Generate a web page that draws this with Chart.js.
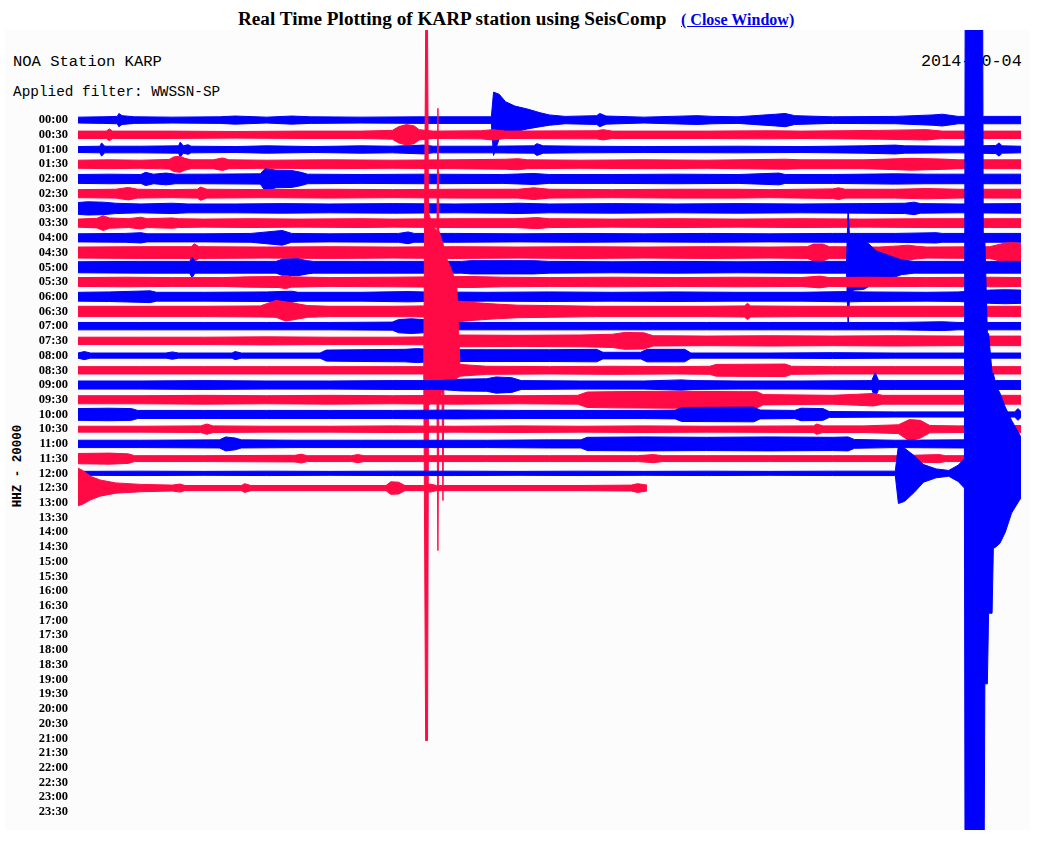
<!DOCTYPE html>
<html>
<head>
<meta charset="utf-8">
<script src="https://cdn.jsdelivr.net/npm/chart.js@4/dist/chart.umd.min.js"></script>
<style>
  body { margin: 0; background: #fff; width: 1043px; height: 851px; position: relative; overflow: hidden; }
  #title { position: absolute; left: 238px; top: 8px; font: bold 19.2px "Liberation Serif", serif; color: #000; white-space: nowrap; }
  #close { position: absolute; left: 681px; top: 11px; font: bold 16px "Liberation Serif", serif; color: #0000ee; text-decoration: underline; white-space: nowrap; }
  #box { position: absolute; left: 5px; top: 30px; width: 1025px; height: 800px; background: #fcfcfc; }
  .mono { position: absolute; font-family: "Liberation Mono", monospace; color: #000; white-space: nowrap; }
  #station { left: 13px; top: 53px; font-size: 15.5px; }
  #filter { left: 13px; top: 84px; font-size: 14.4px; }
  #date { left: 921px; top: 52px; font-size: 16.8px; }
  #chan { left: 18px; top: 466px; font-size: 12.5px; font-weight: bold; transform: translate(-50%, -50%) rotate(-90deg); }
  #plot { position: absolute; left: 5px; top: 30px; }
</style>
</head>
<body>
<div id="title">Real Time Plotting of KARP station using SeisComp</div>
<div id="close">( Close Window)</div>
<div id="box"></div>
<div class="mono" id="station">NOA Station KARP</div>
<div class="mono" id="filter">Applied filter: WWSSN-SP</div>
<div class="mono" id="date">2014-10-04</div>
<div class="mono" id="chan">HHZ - 20000</div>
<canvas id="plot" width="1025" height="800"></canvas>
<script>
// row labels (each row = 30 minutes)
const timeLabels = ["00:00","00:30","01:00","01:30","02:00","02:30","03:00","03:30",
  "04:00","04:30","05:00","05:30","06:00","06:30","07:00","07:30",
  "08:00","08:30","09:00","09:30","10:00","10:30","11:00","11:30",
  "12:00","12:30","13:00","13:30","14:00","14:30","15:00","15:30",
  "16:00","16:30","17:00","17:30","18:00","18:30","19:00","19:30",
  "20:00","20:30","21:00","21:30","22:00","22:30","23:00","23:30"];

// trace envelopes: [minute in row, amplitude up (k counts), amplitude down (k counts, optional)]
const t0000 = [[0,4],[0.8,4.5],[1.25,5],[1.3,9],[1.4,6],[1.8,4.5],[3,4],[4.5,4.5],[5,5.5],[6,4],[6.8,5.5],[7.4,4.5],[9,4],[11,4.5],[13.15,4.5],[13.22,38,48],[13.4,35,25],[13.6,25,20],[13.9,19,16],[14.3,15,12],[14.7,10,9],[15.0,7],[15.5,5],[16.5,6],[16.6,9],[16.8,5.5],[18,4],[19.7,6],[20.2,5],[21,4.5],[22.2,8],[22.5,9],[22.8,6],[24,4.5],[26,5],[27.2,7],[27.5,8],[28,5],[30,5]];
const t0030 = [[0,5],[0.9,5],[1.0,8],[1.1,5],[3,5],[5,4.5],[7,5],[9,5],[10.0,6],[10.2,11],[10.45,14],[10.7,12],[10.85,7],[11.3,5],[12.8,5.5],[13.2,7],[13.6,5],[16.5,5.5],[16.7,7],[17,5],[20,5],[22,5.5],[23,5],[25.5,6],[27,7],[27.5,5],[30,5]];
const t0100 = [[0,4],[0.7,4.5],[0.75,9],[0.85,4.5],[2,4.5],[3.2,5],[3.25,10],[3.35,5],[3.5,6.5],[3.6,4.5],[5,4],[6,5],[7.5,4],[9,5],[10,4.5],[11,6],[11.3,4.5],[13,4.5],[14.5,5],[14.6,8],[14.8,5],[16,4.5],[18,4],[21,4.5],[23,4],[25,5],[26,6],[26.3,5],[28,4.5],[29.2,5.5],[29.3,9],[29.4,5],[30,4.5]];
const t0130 = [[0,5.5],[1,6],[2,5.5],[2.9,6.5],[3.05,10],[3.25,11],[3.4,8],[3.6,6],[4.3,6],[4.6,8.5],[4.8,6],[6,5.5],[8,6],[10,5.5],[12,6],[13.6,6.8],[14,7.5],[14.3,6],[16,5.5],[18,6],[20,5.5],[22.5,6.8],[23,6],[25,6],[26.5,8],[27.5,7],[28,6],[30,6]];
const t0200 = [[0,6],[1,6.5],[2,6],[2.15,9],[2.4,6.5],[2.8,8],[3.1,6.5],[4,6.5],[5.8,7],[5.95,14,16],[6.3,12],[6.8,11.5],[7.1,9],[7.3,6.5],[9,6],[11,6.5],[13.5,6],[14.5,7.5],[15,6],[17,6],[19,6.5],[21,6],[22.3,8],[22.5,6],[24,6],[26,7],[27,6.5],[28.5,6.5],[30,6.5]];
const t0230 = [[0,5.5],[1.2,6],[1.6,8.5],[1.9,6],[3,5.5],[3.8,6],[3.9,9],[4.1,6],[6,5.5],[8,6],[10,5.5],[12,6],[14,6],[14.5,8],[15,6],[17,5.5],[19,6],[21,6],[22,5.5],[24,6.5],[24.2,8],[24.4,6],[26,6],[27,7],[28,6],[30,6]];
const t0300 = [[0,8],[0.3,9],[0.8,8.5],[1.2,7],[2,6],[3,7],[3.5,6],[5,6],[6.5,6.5],[8,6],[10,6.5],[12,6],[13.5,6.5],[14,7],[15,6],[17,6.5],[19,6],[21,6.5],[23,6],[25,6.5],[26.3,7],[26.6,8.5],[26.8,6.5],[28,6],[30,6.5]];
const t0330 = [[0,5.5],[0.6,6.5],[0.8,10],[1.0,7],[1.6,6],[2.0,8],[2.2,6],[3,7],[3.2,6],[4,5.5],[5.5,6],[7,5.5],[9,6],[10,5.5],[12,6],[13.9,6],[14.6,7.5],[15,6],[17,5.5],[19,6],[21,5.5],[23,6],[25,5.5],[27,6],[29,6],[30,6]];
const t0400 = [[0,5.5],[1.5,6],[2,7],[2.2,5.5],[4,5.5],[5.5,6],[6.5,10],[6.8,6],[8,5.5],[10.2,6],[10.5,8],[10.7,6],[12,6],[14,5.5],[16,6],[18,5.5],[20,6],[22,5.5],[24,6],[26,6],[27.3,7],[27.5,6],[30,6]];
const t0430 = [[0,7.5],[2,8],[3.6,8],[3.7,12],[3.85,8],[6,7.5],[8,8],[10,7.5],[12,8],[14,7.5],[16,8],[18,7.5],[20,8],[22,7.5],[23.2,8],[23.4,11.5],[23.7,11.5],[23.9,8],[25.5,7.5],[26.1,9],[26.4,10],[26.7,8.5],[27,7.5],[29,8],[29.5,13],[29.8,13.5],[30,12]];
const t0500 = [[0,7.5],[2,8],[3.55,8],[3.63,14],[3.72,8],[6.3,8],[6.5,11],[7.0,11.5],[7.3,9],[7.5,8],[9,8],[11,8],[12.2,8],[12.5,9],[14.5,9],[15,8],[17,7.5],[19,8],[21,7.5],[23,8],[24.45,8],[24.5,82],[24.55,35],[24.7,41,31],[25.0,38,30],[25.4,22,20],[25.8,16],[26.2,10],[26.6,8],[29,8],[30,8]];
const t0530 = [[0,6],[1.5,6.5],[3,6],[4.6,6],[5.4,7],[6.4,7.5],[6.6,9],[6.8,7],[8,6],[10,6.5],[12.5,7.5],[13.5,6.5],[15,6],[17,6.5],[19,6],[21,6.5],[23,6],[23.6,8],[23.9,6],[25,6.5],[27,6],[29,6.5],[30,6]];
const t0600 = [[0,6],[1,6.5],[2.3,8],[2.5,6],[4,6],[6,6.5],[6.8,7.5],[7,6],[9,6],[10.5,7],[11,6.5],[13,6],[15,6.5],[17,6],[19,6.5],[21,6],[23,6],[24.5,7],[25,6.5],[27,6],[28,6.5],[29,9],[29.5,9.5],[30,9]];
const t0630 = [[0,7],[2,7],[4,7],[5.8,7.5],[6.3,15,8],[6.6,13],[6.9,11],[7.3,8],[8,7],[10,7],[11,7.5],[11.8,10],[12.1,14],[12.6,12],[13.3,10],[14,8.5],[15,8],[16.5,7],[18,7],[20,7],[21.2,7.5],[21.3,11],[21.4,7.5],[23,7],[25,7],[27,7],[29,7],[30,7]];
const t0700 = [[0,5],[2,5],[4,5],[6,5],[8,5],[10.0,5.5],[10.2,9],[10.6,10],[11.0,9],[11.2,6],[12,5],[14,5],[16,5],[18,5],[20,5],[22,5],[24,5],[26,5],[27.5,6],[28,5],[30,5]];
const t0730 = [[0,5],[2,5],[4,5],[6,5.5],[8,5],[10,5],[11.3,5.5],[12.0,8],[14,7.5],[16,8],[17.0,9],[17.4,11.5],[18.0,11],[18.3,7],[19,6.8],[20,6.5],[22,7],[24,6.5],[26,7],[28,6.5],[30,6.5]];
const t0800 = [[0,3.5],[0.2,5.5],[0.4,3.5],[2.8,3.5],[3,5],[3.2,3.5],[4.9,3.5],[5.0,5.5],[5.2,3.5],[7.7,3.5],[7.9,7.5],[9,8],[10.4,8.5],[10.8,9.5],[11.3,8],[13,8],[15,8],[16.5,8.5],[16.7,4.5],[17.9,4.5],[18.1,8.5],[19.3,8.5],[19.5,3.5],[22,3.5],[24,4],[26,3.5],[28,3.5],[30,3.5]];
const t0830 = [[0,5],[2,5],[4,5],[6,5],[8,5],[10,5],[11.0,5],[11.06,462,503],[11.12,462,503],[11.15,214,48],[11.3,195,41],[11.42,190,41],[11.45,356,245],[11.48,190,41],[11.58,175,27],[11.61,175,177],[11.64,160,25],[11.75,150,20],[11.85,140,14],[12.05,116,11],[12.15,8],[13,5.5],[15,5],[17,5.5],[19,5],[20.1,5.5],[20.3,8],[22.5,8.5],[22.7,5.5],[24,5],[26,5],[28,5],[30,5]];
const t0900 = [[0,5.5],[2,5.5],[4,6],[6,5.5],[8,5.5],[10,6],[11.5,6],[12.2,8],[13.0,8.5],[13.3,11],[13.8,10],[14.1,6],[16,5.5],[18,5.5],[19.2,7],[19.6,6],[21,5.5],[23,5.5],[25.25,6],[25.36,17],[25.47,6],[26,6],[28,6],[30,6]];
const t0930 = [[0,5.5],[2,5.5],[4,6],[6,5.5],[8,6],[10,5.5],[12,6],[14,5.5],[15.9,6],[16.2,10.5],[17,11],[19,11.5],[21,11],[21.6,11],[21.8,7],[24,6],[24.8,7.5],[25.3,8.5],[25.6,6],[28,6],[30,6]];
const t1000 = [[0,8],[1.0,8.5],[1.7,8],[1.9,5.5],[4,5.5],[6,5.5],[8,5.5],[10,5.5],[12,6],[14,5.5],[16,5.5],[18,5.5],[19.0,6],[19.2,9.5],[21.5,10],[21.7,6],[22.8,5.5],[23.0,8.5],[23.7,8],[23.9,4],[26,3.5],[28,3.5],[29.8,3.5],[29.9,8],[30,4]];
const t1030 = [[0,4],[2,4],[3.9,4.5],[4.1,7],[4.3,4.5],[6,4],[8,4],[10,4.5],[12,4],[14,4.5],[16,4],[18,4.5],[20,4],[23.4,4.5],[23.5,7],[23.7,4.5],[25,4.5],[26.1,6],[26.45,13,16],[26.8,12],[27.1,5],[28,4.5],[29,5],[30,5]];
const t1100 = [[0,5],[2,5],[4.5,5.5],[4.7,9.5],[5.0,8],[5.2,5.5],[7,5],[9,5],[11,5],[13,5],[15,5.5],[16.0,5.5],[16.2,9],[18,9.5],[20,9],[22,9.5],[24,9],[24.5,9.5],[24.7,6],[26,5],[28,5.5],[30,5.5]];
const t1130 = [[0,7],[1.0,7.5],[1.6,6.5],[1.8,4],[4,4],[6.9,4.5],[7.1,6],[7.3,4],[8.7,4],[8.9,5.5],[9.1,4],[11,4],[13,4],[15,4],[17.8,4],[18.3,5.5],[18.6,4],[20,4],[22,4],[24,4],[26,4],[27.4,5.5],[27.6,4],[30,4]];
const t1200 = [[0,2.7],[2,3],[4,2.7],[6,3],[8,2.7],[10,3],[12,3],[14,2.7],[16,3],[18,2.7],[20,3],[22,2.7],[24,3],[26.0,3],[26.1,38,41],[26.3,34,38],[26.6,24,26],[26.9,12],[27.3,6],[27.7,4],[28.0,11],[28.2,20],[28.23,816,816],[28.77,816,816],[28.8,317,816],[28.85,317,286],[28.93,190,286],[28.97,190,190],[29.08,136,190],[29.12,136,102],[29.2,120,100],[29.33,109,95],[29.5,90,80],[29.7,72,54],[30,49,33]];
const t1230 = [[0,27,24],[0.15,24,22],[0.4,16],[0.7,11],[1.2,7],[2,5],[3,4],[3.25,5.5],[3.4,3.5],[5.2,3.5],[5.3,6],[5.5,3.5],[9.8,3.5],[9.95,8.5],[10.2,8],[10.4,3.5],[11.0,3.5],[11.2,5.5],[11.4,3.5],[14,3.5],[16,3.5],[17.6,4],[17.8,6],[18.1,4]];

const traces = [t0000,t0030,t0100,t0130,t0200,t0230,t0300,t0330,t0400,t0430,t0500,t0530,
  t0600,t0630,t0700,t0730,t0800,t0830,t0900,t0930,t1000,t1030,t1100,t1130,t1200,t1230];

const ROW_K = 20;   // 20000 counts per row spacing
const BLUE = "#0000ff";
const RED = "#ff0a45";

let datasets = [];
traces.forEach(function (tr, row) {
  const col = row % 2 ? RED : BLUE;
  const up = tr.map(p => ({ x: p[0], y: row - p[1] / ROW_K }));
  const dn = tr.map(p => ({ x: p[0], y: row + (p.length > 2 ? p[2] : p[1]) / ROW_K }));
  datasets.push({ data: up, borderColor: col, borderWidth: 1, pointRadius: 0, fill: false, order: -row });
  datasets.push({ data: dn, borderColor: col, backgroundColor: col, borderWidth: 1, pointRadius: 0, fill: "-1", order: -row });
});

new Chart(document.getElementById("plot"), {
  type: "line",
  data: { datasets: datasets },
  options: {
    responsive: false,
    animation: false,
    events: [],
    layout: { padding: { left: 0, right: 9, top: 0, bottom: 0 } },
    elements: { line: { tension: 0, borderJoinStyle: "round" } },
    plugins: { legend: { display: false }, tooltip: { enabled: false } },
    scales: {
      x: { type: "linear", min: 0, max: 30, display: false },
      y: {
        type: "linear", reverse: true, min: -6.12, max: 48.23,
        grid: { display: false, drawTicks: false },
        border: { display: false },
        afterFit: function (s) { s.width = 73; s.paddingTop = 0; s.paddingBottom = 0; },
        afterBuildTicks: function (s) { s.ticks = timeLabels.map((_, i) => ({ value: i })); },
        ticks: {
          autoSkip: false, padding: 10, color: "#000",
          font: { family: "Liberation Serif", size: 12.5, weight: "bold" },
          callback: function (v, i) { return timeLabels[i]; }
        }
      }
    }
  }
});
</script>
</body>
</html>
